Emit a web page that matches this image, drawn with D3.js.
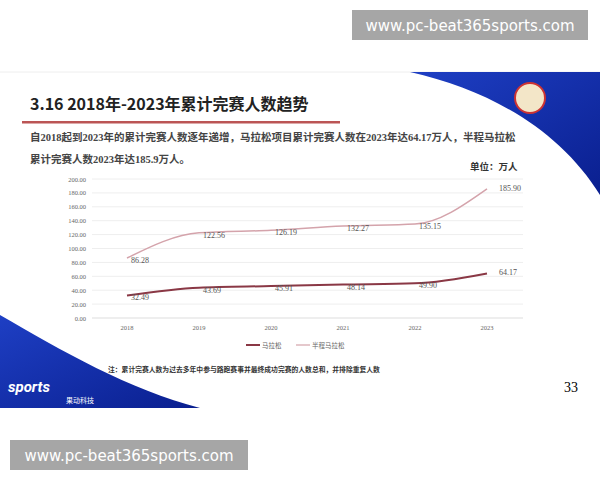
<!DOCTYPE html><html><head><meta charset="utf-8"><script src="https://cdn.jsdelivr.net/npm/d3@7"></script>
<style>body{margin:0;background:#fff}svg{display:block}</style></head><body><script>
const years=["2018","2019","2020","2021","2022","2023"];
const marathon=[32.49,43.69,45.91,48.14,49.90,64.17];
const half=[86.28,122.56,126.19,132.27,135.15,185.90];
const yTicks=[0,20,40,60,80,100,120,140,160,180,200];
const seriesNames=["马拉松","半程马拉松"];
const W=600,H=480;
const svg=d3.select("body").append("svg").attr("width",W).attr("height",H);
// slide area
svg.append("rect").attr("x",0).attr("y",72).attr("width",W).attr("height",336).attr("fill","#fff");
svg.append("line").attr("x1",0).attr("x2",W).attr("y1",72).attr("y2",72).attr("stroke","#eee");
const grad=svg.append("defs").append("linearGradient").attr("id","bl").attr("x1",0).attr("y1",0).attr("x2",1).attr("y2",1);
grad.append("stop").attr("offset",0).attr("stop-color","#1e3fc4");grad.append("stop").attr("offset",1).attr("stop-color","#0a1f8f");
svg.append("path").attr("d","M410,72 L600,72 L600,195 C560,130 490,90 410,72Z").attr("fill","url(#bl)");
svg.append("path").attr("d","M0,315 C60,350 130,390 200,408 L0,408Z").attr("fill","url(#bl)");
svg.append("circle").attr("cx",530).attr("cy",98).attr("r",15).attr("fill","#f3e6c8").attr("stroke","#c33").attr("stroke-width",2);
svg.append("text").attr("x",8).attr("y",392).attr("fill","#fff").attr("font-family","Roboto").attr("font-weight","bold").attr("font-style","italic").attr("font-size",15).text("sports");
svg.append("text").attr("x",66).attr("y",403).attr("fill","#fff").attr("font-family","Noto Sans CJK SC").attr("font-size",7).text("果动科技");
svg.append("text").attr("x",578).attr("y",392).attr("text-anchor","end").attr("font-family","Liberation Serif").attr("font-size",14).text("33");
// title
svg.append("text").attr("x",30).attr("y",110).attr("font-family","Noto Sans CJK SC").attr("font-weight","bold").attr("font-size",16).attr("fill","#222").text("3.16 2018年-2023年累计完赛人数趋势");
svg.append("rect").attr("x",22).attr("y",121).attr("width",318).attr("height",2.5).attr("fill","#b55");
const serif="Liberation Serif, Noto Sans CJK SC";
svg.append("text").attr("x",30).attr("y",141).attr("font-family",serif).attr("font-weight","bold").attr("font-size",10.5).attr("fill","#444").text("自2018起到2023年的累计完赛人数逐年递增，马拉松项目累计完赛人数在2023年达64.17万人，半程马拉松");
svg.append("text").attr("x",30).attr("y",163).attr("font-family",serif).attr("font-weight","bold").attr("font-size",10.5).attr("fill","#444").text("累计完赛人数2023年达185.9万人。");
svg.append("text").attr("x",470).attr("y",170).attr("font-family","Noto Sans CJK SC").attr("font-weight","bold").attr("font-size",9.5).attr("fill","#333").text("单位：万人");
// chart
const x=d3.scalePoint().domain(years).range([127,487]);
const y=d3.scaleLinear().domain([0,200]).range([318,179]);
const g=svg.append("g");
yTicks.forEach(t=>{g.append("line").attr("x1",92).attr("x2",523).attr("y1",y(t)).attr("y2",y(t)).attr("stroke",t?"#eee":"#ddd");
 g.append("text").attr("x",86).attr("y",y(t)+2.5).attr("text-anchor","end").attr("font-family",serif).attr("font-size",6.5).attr("fill","#666").text(t.toFixed(2));});
years.forEach(d=>g.append("text").attr("x",x(d)).attr("y",330).attr("text-anchor","middle").attr("font-family",serif).attr("font-size",6.5).attr("fill","#666").text(d));
const line=d3.line().x((d,i)=>x(years[i])).y(d=>y(d)).curve(d3.curveMonotoneX);
const cols=["#8a3845","#d4a3ab"];
[marathon,half].forEach((s,k)=>{g.append("path").attr("d",line(s)).attr("fill","none").attr("stroke",cols[k]).attr("stroke-width",k?1.5:2);
 s.forEach((v,i)=>g.append("text").attr("x",x(years[i])+(i==5?12:4)).attr("y",y(v)+(i==5?2:5)).attr("font-family",serif).attr("font-size",8).attr("fill","#555").text(v.toFixed(2)));});
// legend
seriesNames.forEach((n,k)=>{const lx=246+k*50;g.append("line").attr("x1",lx).attr("x2",lx+14).attr("y1",345).attr("y2",345).attr("stroke",cols[k]).attr("stroke-width",k?1.2:2);
 g.append("text").attr("x",lx+16).attr("y",348).attr("font-family","Noto Sans CJK SC").attr("font-size",6.5).attr("fill","#666").text(n);});
svg.append("text").attr("x",108).attr("y",372).attr("font-family","Noto Sans CJK SC").attr("font-weight","bold").attr("font-size",6.8).attr("fill","#333").text("注：累计完赛人数为过去多年中参与路跑赛事并最终成功完赛的人数总和，并排除重复人数");
// watermarks
[[352,10,236],[10,440,238]].forEach(([bx,by,bw])=>{svg.append("rect").attr("x",bx).attr("y",by).attr("width",bw).attr("height",30).attr("fill","#a6a6a6");
 svg.append("text").attr("x",bx+bw/2).attr("y",by+21).attr("text-anchor","middle").attr("font-family","DejaVu Sans").attr("font-size",15).attr("fill","#fff").text("www.pc-beat365sports.com");});
</script></body></html>
